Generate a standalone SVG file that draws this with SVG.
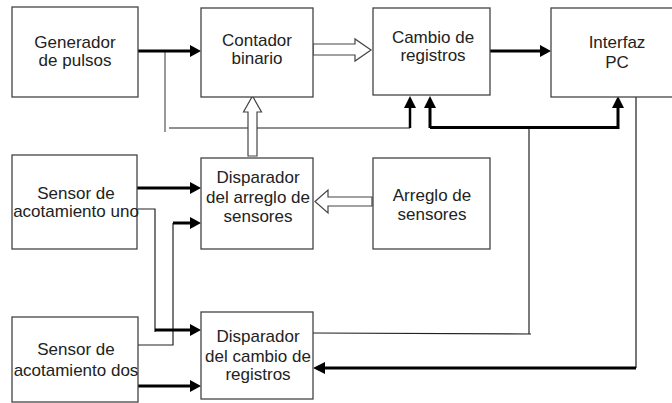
<svg xmlns="http://www.w3.org/2000/svg" width="672" height="403" viewBox="0 0 672 403">
<defs>
<style>
.box{fill:#fff;stroke:#444;stroke-width:1.3}
.t{font-family:"Liberation Sans",Arial,sans-serif;font-size:17px;fill:#222;text-anchor:middle}
.thin{fill:none;stroke:#222;stroke-width:1.2}
.gray{fill:none;stroke:#777;stroke-width:1.5}
.thick{fill:none;stroke:#000;stroke-width:3}
.head{fill:#000;stroke:none}
.hollow{fill:#fff;stroke:#444;stroke-width:1.2}
</style>
</defs>
<rect width="672" height="403" fill="#fff"/>
<g id="connectors">
  <!-- thin feeder lines -->
  <path class="gray" d="M165,51 V132"/>
  <path class="thin" d="M169,128 H410"/>
  <path class="thin" d="M529,127 V334"/>
  <path class="thin" d="M313,333 L531,334"/>
  <path class="gray" d="M636,97 V368" style="stroke-width:2"/>
  <path class="thin" d="M138,209 H155 V332"/>
  <path class="thin" d="M135,345 H173 V223"/>
  <!-- thick arrows -->
  <path class="thick" d="M136,51 H191"/><polygon class="head" points="190,45 201,51 190,57"/>
  <path class="thick" d="M488,51 H541"/><polygon class="head" points="540,45 551,51 540,57"/>
  <path class="thick" d="M136,188 H191"/><polygon class="head" points="190,182 201,188 190,194"/>
  <path class="thick" d="M138,386 H191"/><polygon class="head" points="190,380 201,386 190,392"/>
  <path class="thick" d="M155,330 H191"/><polygon class="head" points="190,324 201,330 190,336"/>
  <path class="thick" d="M173,223 H191"/><polygon class="head" points="190,217 201,223 190,229"/>
  <path class="thick" d="M410,128 V107" style="stroke-width:2.5"/><polygon class="head" points="404,108 410,96 416,108"/>
  <path class="thick" d="M430,128 V107"/><polygon class="head" points="424,108 430,96 436,108"/>
  <path class="thick" d="M430,127.5 H618 V107"/><polygon class="head" points="612,108 618,96 624,108"/>
  <path class="thick" d="M636,368 H324"/><polygon class="head" points="325,362 313,368 325,374"/>
  <!-- hollow arrows -->
  <polygon class="hollow" points="313,44 355,44 355,39 371,50 355,61 355,55 313,55"/>
  <polygon class="hollow" points="248,156 248,112 243.5,112 252.5,96 261.5,112 257,112 257,156"/>
  <polygon class="hollow" points="372,197 328,197 328,190 315,201.5 328,213 328,206 372,206"/>
</g>
<g id="generador">
  <rect class="box" x="12" y="7" width="126" height="90"/>
  <text class="t" x="75" y="48">Generador</text>
  <text class="t" x="75" y="66">de pulsos</text>
</g>
<g id="contador">
  <rect class="box" x="201" y="8" width="112" height="89"/>
  <text class="t" x="257" y="46">Contador</text>
  <text class="t" x="257" y="64">binario</text>
</g>
<g id="cambio">
  <rect class="box" x="373" y="8" width="117" height="87"/>
  <text class="t" x="433" y="43">Cambio de</text>
  <text class="t" x="433" y="61">registros</text>
</g>
<g id="interfaz">
  <rect class="box" x="551" y="8" width="130" height="89"/>
  <text class="t" x="617" y="48">Interfaz</text>
  <text class="t" x="617" y="68">PC</text>
</g>
<g id="sensor-uno">
  <rect class="box" x="12" y="155" width="125" height="94"/>
  <text class="t" x="76" y="199">Sensor de</text>
  <text class="t" x="76" y="217">acotamiento uno</text>
</g>
<g id="disparador-arreglo">
  <rect class="box" x="201" y="158" width="112" height="91"/>
  <text class="t" x="258" y="183">Disparador</text>
  <text class="t" x="258" y="203">del arreglo de</text>
  <text class="t" x="258" y="222">sensores</text>
</g>
<g id="arreglo">
  <rect class="box" x="373" y="158" width="117" height="91"/>
  <text class="t" x="432" y="201">Arreglo de</text>
  <text class="t" x="432" y="220">sensores</text>
</g>
<g id="sensor-dos">
  <rect class="box" x="12" y="317" width="126" height="85"/>
  <text class="t" x="76" y="355">Sensor de</text>
  <text class="t" x="76" y="376">acotamiento dos</text>
</g>
<g id="disparador-cambio">
  <rect class="box" x="201" y="312" width="112" height="87"/>
  <text class="t" x="258" y="342">Disparador</text>
  <text class="t" x="258" y="362">del cambio de</text>
  <text class="t" x="258" y="380">registros</text>
</g>
</svg>
